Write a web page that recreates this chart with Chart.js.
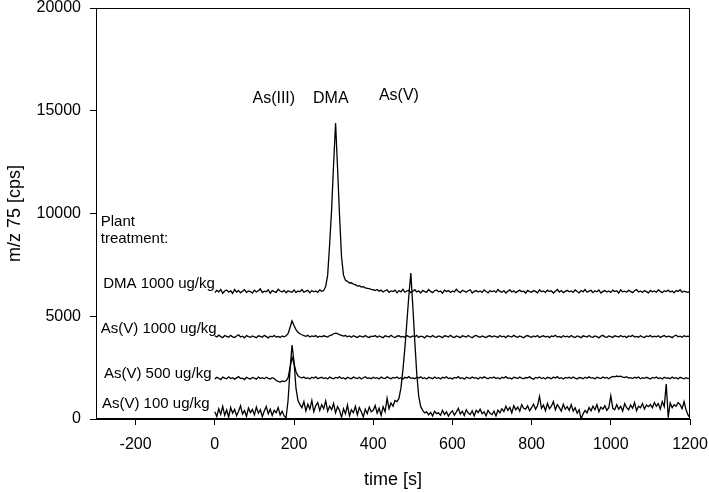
<!DOCTYPE html>
<html><head><meta charset="utf-8">
<script src="https://cdn.jsdelivr.net/npm/chart.js@4.4.1/dist/chart.umd.min.js"></script>
<style>html,body{margin:0;padding:0;background:#fff;} #wrap{width:709px;height:493px;}</style>
</head><body><div id="wrap"><canvas id="c" width="709" height="493"></canvas></div>
<script>
const times = [
0,5,10,15,20,25,30,35,40,45,50,55,60,65,70,75,80,85,90,95,
100,105,110,115,120,125,130,135,140,145,150,155,160,165,170,175,180,185,190,195,
200,205,210,215,220,225,230,235,240,245,250,255,260,265,270,275,280,285,290,295,
300,305,310,315,320,325,330,335,340,345,350,355,360,365,370,375,380,385,390,395,
400,405,410,415,420,425,430,435,440,445,450,455,460,465,470,475,480,485,490,495,
500,505,510,515,520,525,530,535,540,545,550,555,560,565,570,575,580,585,590,595,
600,605,610,615,620,625,630,635,640,645,650,655,660,665,670,675,680,685,690,695,
700,705,710,715,720,725,730,735,740,745,750,755,760,765,770,775,780,785,790,795,
800,805,810,815,820,825,830,835,840,845,850,855,860,865,870,875,880,885,890,895,
900,905,910,915,920,925,930,935,940,945,950,955,960,965,970,975,980,985,990,995,
1000,1005,1010,1015,1020,1025,1030,1035,1040,1045,1050,1055,1060,1065,1070,1075,1080,1085,1090,1095,
1100,1105,1110,1115,1120,1125,1130,1135,1140,1145,1150,1155,1160,1165,1170,1175,1180,1185,1190,1195,
1200];

const dma1000 = [
6150,6260,6190,6310,6120,6230,6280,6170,6240,6110,6300,6180,6250,6140,6220,6290,6160,6230,6200,6130,
6270,6180,6240,6330,6150,6220,6190,6290,6120,6250,6200,6160,6310,6230,6180,6260,6140,6240,6200,6170,
6280,6150,6230,6190,6300,6170,6220,6260,6140,6250,6190,6230,6160,6280,6210,6250,6450,7000,8500,10200,
12400,14400,12200,9900,7900,7000,6750,6700,6620,6630,6560,6540,6470,6490,6420,6440,6380,6360,6340,6310,
6290,6250,6300,6220,6270,6180,6240,6290,6160,6230,6200,6270,6140,6250,6190,6310,6170,6230,6260,6150,
6220,6290,6180,6240,6130,6260,6200,6170,6300,6210,6150,6240,6280,6190,6230,6120,6270,6200,6250,6160,
6230,6180,6310,6200,6150,6260,6220,6170,6240,6290,6130,6210,6250,6180,6230,6160,6280,6200,6140,6250,
6190,6240,6160,6300,6210,6170,6250,6130,6220,6280,6180,6240,6150,6210,6270,6190,6230,6120,6260,6200,
6170,6250,6210,6140,6290,6190,6230,6160,6270,6200,6240,6130,6220,6300,6180,6250,6150,6210,6260,6190,
6230,6160,6280,6200,6140,6250,6190,6300,6170,6220,6260,6150,6240,6190,6280,6130,6210,6250,6180,6230,
6160,6270,6200,6240,6130,6290,6190,6220,6170,6260,6210,6150,6240,6300,6180,6230,6160,6250,6200,6140,
6260,6190,6230,6170,6280,6210,6150,6240,6200,6270,6180,6230,6140,6250,6210,6290,6170,6220,6190,6160,
6200];

const asv1000 = [
4050,3990,4080,4010,3960,4060,4020,3980,4070,4000,3970,4040,4100,3990,4030,3950,4060,4010,3980,4040,
4000,3960,4050,4020,3980,4070,4010,3950,4030,4000,4060,3990,4020,3970,4040,4000,4050,4150,4450,4770,
4550,4350,4220,4150,4100,4060,4020,4070,3990,4040,4010,4060,3980,4030,4000,4050,4020,3990,4060,4080,
4150,4180,4150,4100,4070,4030,4060,4000,4040,3980,4050,4010,3970,4040,4020,3990,4060,4000,3970,4030,
4010,4060,3980,4040,4000,3960,4050,4020,3990,4070,4000,3960,4030,4050,3990,4020,3970,4060,4010,3980,
4040,4000,4070,3970,4030,4010,3950,4050,4020,3990,4060,4000,3980,4040,4010,3960,4050,4030,3990,4070,
4000,3970,4040,4010,3960,4050,4020,3990,4060,4000,3950,4030,4070,4010,3980,4040,4000,3960,4030,4050,
3990,4040,4010,3970,4060,4000,4030,3960,4050,4020,3990,4070,4010,3980,4040,4000,3950,4030,4060,4010,
3980,4040,4000,4060,3970,4020,4050,3990,4030,3960,4040,4010,4070,3990,4020,3970,4050,4000,4030,3980,
4060,4000,3970,4040,4010,3960,4050,4020,3990,4060,4000,3980,4040,4010,3950,4030,4070,4000,3980,4040,
4010,3970,4050,4020,3990,4060,4000,4030,3960,4040,4010,4070,3990,4020,3980,4050,4000,3960,4040,4010,
4060,3990,4030,4000,4050,3970,4020,4060,3990,4030,4010,3960,4040,4080,4000,4030,3980,4050,4010,4030,
4010];

const asv500 = [
1950,2030,1980,1920,2040,1990,1960,2050,1970,2010,1940,2000,2060,1970,1990,1920,2030,1980,1950,2020,
1990,1940,2040,1970,2010,1960,2030,1980,1950,2010,1970,1870,1830,1800,1850,1820,1860,2000,2500,3000,
2700,2300,2100,2030,2000,2040,1970,2010,1950,2030,1990,2050,1960,2000,2030,1970,2010,1950,2040,1990,
1960,2020,1990,2050,1970,2010,1940,2030,1990,1960,2040,2000,1970,2030,1950,2010,2060,1980,2000,1960,
2030,1980,2010,1950,2040,1990,1970,2050,2000,1960,2020,1990,2040,1970,2010,1940,2030,1990,2060,1980,
2000,1960,2030,1990,2050,1970,2010,1950,2030,2000,1960,2040,1980,2010,1950,2030,1990,2050,1970,2000,
1950,2020,1990,2060,1970,2010,1940,2030,2000,1970,2040,1990,2010,1950,2030,1980,2050,2000,1960,2020,
1990,2040,1970,2010,1950,2030,1990,2060,1980,2000,1950,2030,2010,1970,2040,1990,1960,2020,2000,2050,
1980,1940,2020,1990,2040,1970,2010,1950,2030,2000,1960,2040,1990,2060,1970,2010,1950,2020,1990,2030,
1970,2040,1990,1950,2020,2000,1960,2030,1980,2050,1990,2010,1950,2030,2000,1970,2040,1990,2020,1960,
2030,2070,2050,2090,2060,2080,2040,2020,2060,1990,2010,1970,2030,1990,2040,1960,2010,1980,2030,1990,
1950,2020,1990,2040,1970,2010,1950,2030,1990,2000,1960,2040,1980,2010,1950,2030,1990,1960,2010,1970,
1990];

const asv100 = [
350,120,500,230,620,180,440,90,560,290,470,160,380,640,240,410,130,530,310,460,
200,580,280,450,120,390,610,250,480,170,420,300,550,200,380,150,60,900,2400,3600,
2800,1500,900,700,550,850,400,720,480,900,350,650,800,420,700,500,880,380,620,450,
750,300,600,420,80,500,250,680,150,450,300,620,200,550,350,100,480,260,580,350,
420,650,280,520,180,600,350,1000,500,780,620,900,850,1000,1500,2380,3450,4700,6000,7100,
5500,3800,2200,1100,600,420,300,350,200,320,150,380,260,300,180,420,220,350,140,300,
400,190,350,520,240,380,170,450,290,220,400,150,420,310,480,260,350,150,420,280,
220,380,150,430,300,500,360,620,420,560,300,650,450,580,380,700,520,480,650,400,
550,720,480,650,1100,520,680,400,760,500,620,850,450,700,550,380,720,480,600,420,
700,380,550,280,450,0,250,420,300,560,400,620,450,700,350,580,480,650,420,550,
1130,520,450,700,480,620,380,750,550,450,680,520,800,400,620,550,750,480,680,600,
700,550,800,620,750,480,850,600,1700,100,780,550,700,620,800,700,500,850,450,200,
50];

const xTickValues = [-200,0,200,400,600,800,1000,1200];
const yTickValues = [0,5000,10000,15000,20000];

const peakNames = ['As(III)','DMA','As(V)'];
const treatmentLabels = ['Plant','treatment:','DMA 1000 ug/kg','As(V) 1000 ug/kg','As(V) 500 ug/kg','As(V) 100 ug/kg'];

// text anchors in data units
const peakAnchorX = [149,293,465];
const peakAnchorY = [15377,15377,15523];
const treatAnchorX = [-288,-288,-282,-288,-280,-285];
const treatAnchorY = [9391,8564,6374,4185,1995,535];

const FONT = "'Liberation Sans', Arial, Helvetica, sans-serif";
Chart.defaults.font.family = FONT;
Chart.defaults.color = '#000';

function series(vals){ return times.map((t,i)=>({x:t,y:vals[i]})); }
function ds(vals){ return {data:series(vals), borderColor:'#000', borderWidth:1.3, pointRadius:0, fill:false, tension:0}; }

const textPlugin = {
  id:'texts',
  afterDatasetsDraw(chart){
    const {ctx, scales:{x,y}, chartArea:a} = chart;
    ctx.save();
    ctx.fillStyle = '#000';
    ctx.textBaseline = 'alphabetic';
    ctx.font = '16px ' + FONT;
    ctx.textAlign = 'center';
    peakNames.forEach((t,i)=>ctx.fillText(t, x.getPixelForValue(peakAnchorX[i]), y.getPixelForValue(peakAnchorY[i])));
    ctx.font = '15px ' + FONT;
    ctx.textAlign = 'left';
    treatmentLabels.forEach((t,i)=>ctx.fillText(t, x.getPixelForValue(treatAnchorX[i]), y.getPixelForValue(treatAnchorY[i])));
    ctx.strokeStyle = '#000';
    ctx.lineWidth = 1;
    ctx.strokeRect(Math.round(a.left)+0.5, Math.round(a.top)+0.5, Math.round(a.right-a.left)-1, Math.round(a.bottom-a.top)-1);
    ctx.restore();
  }
};

new Chart(document.getElementById('c'), {
  type:'line',
  data:{datasets:[ds(dma1000), ds(asv1000), ds(asv500), ds(asv100)]},
  options:{
    responsive:false,
    animation:false,
    layout:{padding:{top:8,right:19,left:0,bottom:0}},
    plugins:{legend:{display:false}, tooltip:{enabled:false}},
    scales:{
      x:{
        type:'linear', min:-300, max:1200,
        afterBuildTicks:s=>{s.ticks = xTickValues.map(v=>({value:v}));},
        afterFit:s=>{s.height=74; s.paddingLeft=0; s.paddingRight=0;},
        grid:{drawOnChartArea:false, drawTicks:true, tickLength:6, color:'#000'},
        border:{display:true, color:'#000', width:1},
        ticks:{font:{size:16}, padding:10, color:'#000', maxRotation:0, autoSkip:false, callback:v=>String(v)},
        title:{display:true, text:'time [s]', font:{size:18}, color:'#000', padding:{top:0,bottom:2}}
      },
      y:{
        min:0, max:20000,
        afterBuildTicks:s=>{s.ticks = yTickValues.map(v=>({value:v}));},
        afterFit:s=>{s.width=96; s.paddingTop=0; s.paddingBottom=0;},
        grid:{drawOnChartArea:false, drawTicks:true, tickLength:6, color:'#000'},
        border:{display:true, color:'#000', width:1},
        ticks:{font:{size:16}, padding:9, color:'#000', autoSkip:false, callback:v=>String(v)},
        title:{display:true, text:'m/z 75 [cps]', font:{size:18}, color:'#000', padding:{top:4,bottom:0}}
      }
    }
  },
  plugins:[textPlugin]
});
</script></body></html>
